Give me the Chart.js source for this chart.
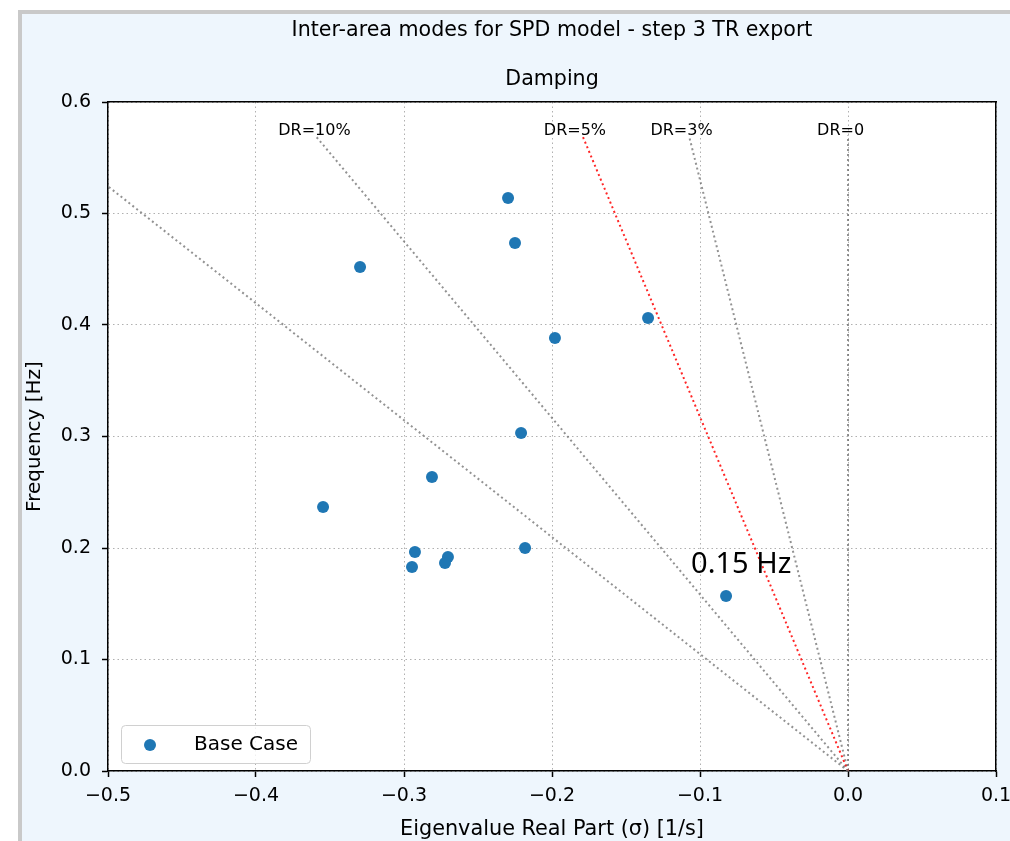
<!DOCTYPE html>
<html>
<head>
<meta charset="utf-8">
<script src="https://cdn.jsdelivr.net/npm/chart.js@4.4.0/dist/chart.umd.min.js"></script>
<style>
body{margin:0;background:#fff;}
#frame{position:absolute;left:18px;top:10px;width:992px;height:831px;background:#eef6fd;border-left:4px solid #c9c9c9;border-top:4px solid #c9c9c9;box-sizing:border-box;}
#c{position:absolute;left:0;top:0;}
</style>
</head>
<body>
<div id="frame"></div>
<canvas id="c" width="1010" height="841"></canvas>
<script>
// modes: real part (1/s) and frequency (Hz)
var sigma = [-0.2297, -0.2250, -0.3297, -0.1351, -0.1980, -0.2209, -0.2811, -0.3547, -0.2182, -0.2926, -0.2703, -0.2946, -0.2723, -0.0824];
var freq  = [0.5140, 0.4735, 0.4520, 0.4063, 0.3883, 0.3031, 0.2637, 0.2368, 0.2000, 0.1964, 0.1919, 0.1830, 0.1865, 0.1570];

// damping ratio lines, from origin to (end sigma, 0.57 Hz)
var drLabels = ['', 'DR=10%', 'DR=5%', 'DR=3%', 'DR=0'];
var drEndSigma = [-0.5435, -0.3600, -0.1795, -0.1075, 0];
var drLabelX = [null, -0.3605, -0.1845, -0.1125, -0.0050];
var drEndFreq = 0.57;

var xTicks = [-0.5, -0.4, -0.3, -0.2, -0.1, 0.0, 0.1];
var yTicks = [0.0, 0.1, 0.2, 0.3, 0.4, 0.5, 0.6];

var noteText = '0.15 Hz';
var noteX = -0.106, noteY = 0.1776;

var FONT = 'DejaVu Sans';

var datasets = [{
    label: 'Base Case',
    data: sigma.map(function(s, i){ return {x: s, y: freq[i]}; }),
    backgroundColor: '#1f77b4',
    borderWidth: 0,
    pointRadius: 6
}];
drLabels.forEach(function(lab, i){
    datasets.push({
        label: lab,
        data: [{x: 0, y: 0}, {x: drEndSigma[i], y: drEndFreq}],
        showLine: true,
        pointRadius: 0,
        borderColor: lab == 'DR=5%' ? 'rgba(255,0,0,0.85)' : 'rgba(110,110,110,0.75)',
        borderWidth: 2,
        borderDash: [2, 3]
    });
});

function fmt(v){
    return v.toFixed(1).replace('-', '\u2212');
}

var plotBg = {
    id: 'plotBg',
    beforeDraw: function(chart){
        var a = chart.chartArea, ctx = chart.ctx;
        ctx.save();
        ctx.fillStyle = '#fff';
        ctx.fillRect(a.left, a.top, a.right - a.left, a.bottom - a.top);
        ctx.restore();
    }
};

var notes = {
    id: 'notes',
    afterDraw: function(chart){
        var ctx = chart.ctx, xs = chart.scales.x, ys = chart.scales.y, a = chart.chartArea;
        ctx.save();
        ctx.fillStyle = '#000';
        ctx.font = '16px "' + FONT + '"';
        ctx.textAlign = 'center';
        ctx.textBaseline = 'alphabetic';
        drLabels.forEach(function(t, i){
            if (!t) return;
            ctx.fillText(t, xs.getPixelForValue(drLabelX[i]), ys.getPixelForValue(drEndFreq));
        });
        ctx.font = '29px "Noto Sans"';
        ctx.textAlign = 'left';
        ctx.fillText(noteText, xs.getPixelForValue(noteX), ys.getPixelForValue(noteY));

        // legend box, lower left
        var lx = a.left + 13, ly = a.bottom - 46, lw = 189, lh = 38;
        ctx.beginPath();
        ctx.roundRect(lx + 0.5, ly + 0.5, lw, lh, 4);
        ctx.fillStyle = 'rgba(255,255,255,0.8)';
        ctx.fill();
        ctx.strokeStyle = '#d0d0d0';
        ctx.lineWidth = 1;
        ctx.stroke();
        ctx.beginPath();
        ctx.arc(lx + 29, ly + 20, 6, 0, Math.PI * 2);
        ctx.fillStyle = datasets[0].backgroundColor;
        ctx.fill();
        ctx.fillStyle = '#000';
        ctx.font = '20px "' + FONT + '"';
        ctx.textBaseline = 'middle';
        ctx.fillText(datasets[0].label, lx + 73, ly + 20);
        ctx.restore();
    }
};

function noPad(s){
    s.paddingLeft = 0; s.paddingRight = 0; s.paddingTop = 0; s.paddingBottom = 0;
}

var tickFont = {family: FONT, size: 19};
var axisBorder = {display: true, color: '#000', width: 1.5, dash: [1.5, 3]};

var chart = new Chart(document.getElementById('c').getContext('2d'), {
    type: 'scatter',
    data: {datasets: datasets},
    options: {
        responsive: false,
        devicePixelRatio: 1,
        animation: false,
        events: [],
        layout: {padding: 0},
        plugins: {
            legend: {display: false},
            tooltip: {enabled: false}
        },
        scales: {
            x: {
                type: 'linear', position: 'bottom', min: -0.5, max: 0.1,
                afterBuildTicks: function(s){ s.ticks = xTicks.map(function(v){ return {value: v}; }); },
                afterFit: function(s){ s.height = 70; noPad(s); },
                ticks: {callback: fmt, color: '#000', font: tickFont, padding: 8, maxRotation: 0, autoSkip: false},
                grid: {color: '#b0b0b0', lineWidth: 1, tickColor: '#000', tickLength: 6, tickWidth: 1.5},
                border: axisBorder,
                title: {display: true, text: 'Eigenvalue Real Part (\u03c3) [1/s]', color: '#000',
                        font: {family: FONT, size: 20.8, lineHeight: 1.2}, padding: {top: 0, bottom: -1}}
            },
            y: {
                type: 'linear', position: 'left', min: 0, max: 0.6,
                afterBuildTicks: function(s){ s.ticks = yTicks.map(function(v){ return {value: v}; }); },
                afterFit: function(s){ s.width = 108; noPad(s); },
                ticks: {callback: fmt, color: '#000', font: tickFont, padding: 11, autoSkip: false},
                grid: {color: '#b0b0b0', lineWidth: 1, tickColor: '#000', tickLength: 6, tickWidth: 1.5},
                border: axisBorder,
                title: {display: true, text: 'Frequency [Hz]', color: '#000',
                        font: {family: FONT, size: 20, lineHeight: 1.2}, padding: {top: 23, bottom: 0}}
            },
            x2: {
                type: 'linear', position: 'top', min: -0.5, max: 0.1,
                afterFit: function(s){ s.height = 102; noPad(s); },
                ticks: {display: false},
                grid: {drawOnChartArea: false, drawTicks: false},
                border: {display: true, color: '#000', width: 1.5},
                title: {display: true, text: ['Inter-area modes for SPD model - step 3 TR export', 'Damping'], color: '#000',
                        font: {family: FONT, size: 20.6, lineHeight: '49px'}, padding: {top: 6.5, bottom: 0}}
            },
            y2: {
                type: 'linear', position: 'right', min: 0, max: 0.6,
                afterFit: function(s){ s.width = 14; noPad(s); },
                ticks: {display: false},
                grid: {drawOnChartArea: false, drawTicks: false},
                border: {display: true, color: '#000', width: 1.5}
            }
        }
    },
    plugins: [plotBg, notes]
});
</script>
</body>
</html>
